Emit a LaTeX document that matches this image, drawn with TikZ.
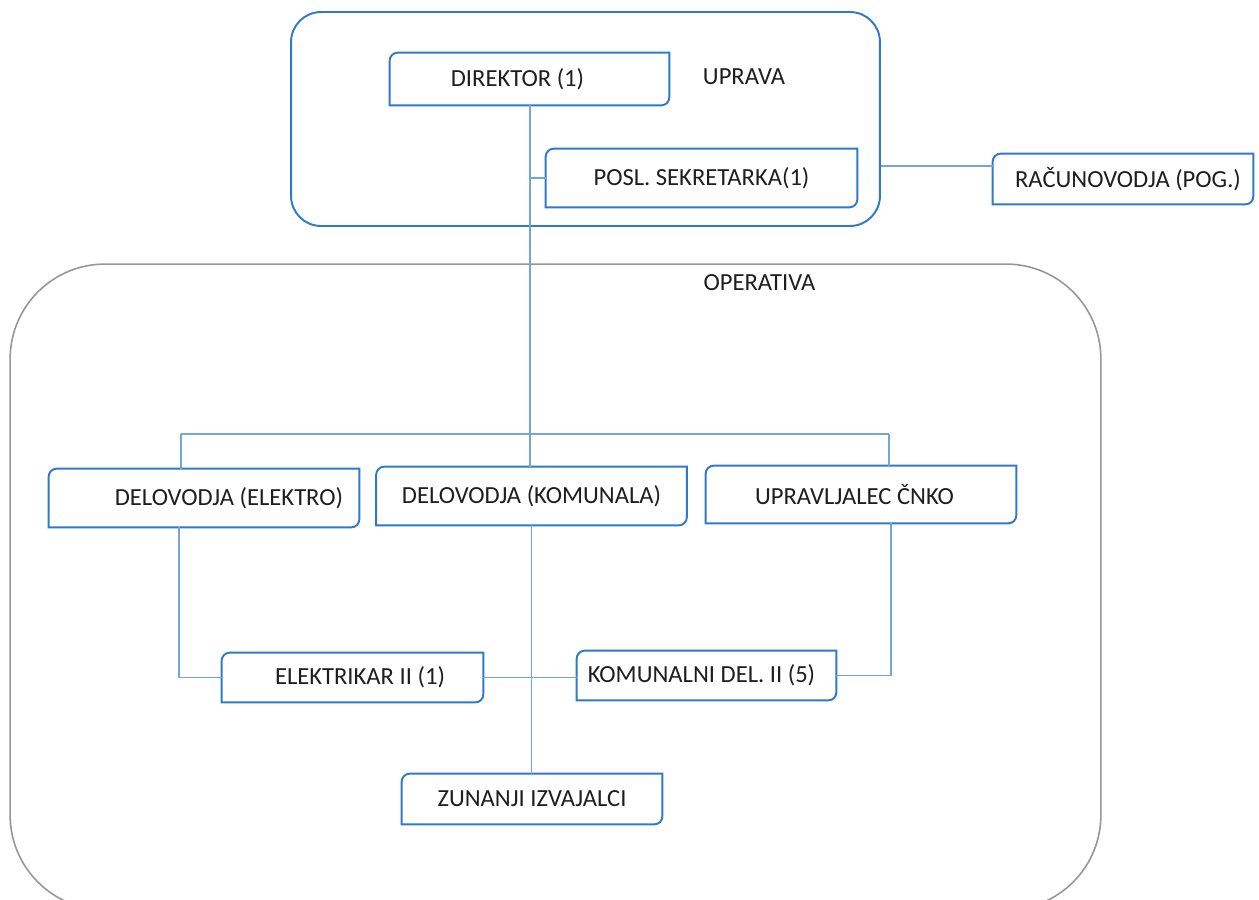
\documentclass[tikz,border=0pt]{standalone}
\usepackage{fontspec}
\setmainfont{Carlito}
\usepackage{tikz}

\definecolor{boxblue}{RGB}{46,122,200}
\definecolor{linkblue}{RGB}{115,165,220}
\definecolor{framegray}{RGB}{150,150,150}
\definecolor{textgray}{RGB}{30,30,30}

\tikzset{
  orgbox/.style={minimum width=6.2cm, minimum height=1.16cm, inner sep=0pt,
    text=textgray, font=\fontsize{14}{16}\selectfont},
  smallbox/.style={orgbox, minimum width=5.2cm, minimum height=1cm},
  boxline/.style={draw=boxblue, line width=1.1pt},
  link/.style={draw=linkblue, line width=0.9pt},
  orglabel/.style={text=textgray, font=\fontsize{14}{16}\selectfont}
}

% box with two round corners (top left, bottom right)
\newcommand{\snipbox}[1]{%
  \draw[boxline] ([yshift=-0.16cm]#1.north west)
    arc[start angle=180, end angle=90, radius=0.16cm] -- (#1.north east)
    -- ([yshift=0.16cm]#1.south east)
    arc[start angle=0, end angle=-90, radius=0.16cm] -- (#1.south west) -- cycle;}

\begin{document}
\begin{tikzpicture}[x=0.02cm, y=-0.02cm]

      \clip (0,0) rectangle (1259,900);

      % the two groups
      \node [draw=boxblue, line width=1.1pt, rounded corners=0.6cm,
        minimum width=11.78cm, minimum height=4.28cm] (uprava) at (585.5,119) {};
      \node [orglabel] (upravatxt) at (744,77) {UPRAVA};

      \node [draw=framegray, line width=0.9pt, rounded corners=1.9cm,
        minimum width=21.82cm, minimum height=12.92cm] (operativa) at (555.5,587) {};
      \node [orglabel] (operativatxt) at (759.5,283) {OPERATIVA};

      % uprava
      \node [orgbox, minimum width=5.58cm, minimum height=1.04cm] (dir) at (529.5,79)
        {DIREKTOR (1)\hspace*{0.48cm}};
      \snipbox{dir}

      \node [orgbox, minimum width=6.22cm] (posl) at (701.5,178) {POSL. SEKRETARKA(1)};
      \snipbox{posl}

      \node [smallbox] (rac) at (1123,179) {\hspace*{0.2cm}RAČUNOVODJA (POG.)};
      \snipbox{rac}

      % operativa
      \node [orgbox] (dele) at (204,498) {\hspace*{1cm}DELOVODJA (ELEKTRO)};
      \snipbox{dele}

      \node [orgbox] (delk) at (531.5,496) {DELOVODJA (KOMUNALA)};
      \snipbox{delk}

      \node [orgbox, minimum height=1.14cm] (upr) at (861,494.5)
        {UPRAVLJALEC ČNKO\hspace*{0.26cm}};
      \snipbox{upr}

      \node [smallbox, minimum width=5.22cm, minimum height=0.98cm] (elek) at (352.5,677.5)
        {\hspace*{0.3cm}ELEKTRIKAR II (1)};
      \snipbox{elek}

      \node [smallbox, minimum width=5.18cm, minimum height=0.98cm] (kom) at (706.5,675.5)
        {KOMUNALNI DEL. II (5)\hspace*{0.2cm}};
      \snipbox{kom}

      \node [smallbox] (zun) at (532,799) {ZUNANJI IZVAJALCI};
      \snipbox{zun}

      % connectors
      \coordinate (busl) at (181,434);
      \coordinate (busr) at (889,434);
      \coordinate (trunk) at (530,0 |- dir.south);

      \draw [link] (trunk) -- (trunk |- delk.north);
      \draw [link] (trunk |- posl.west) -- (posl.west);
      \draw [link] (uprava.east |- 0,166) -- (rac.west |- 0,166);

      \draw [link] (busl) -- (busr);
      \draw [link] (busl) -- (busl |- dele.north);
      \draw [link] (busr) -- (busr |- upr.north);

      \draw [link] (179,0 |- dele.south) |- (elek.west);
      \draw [link] (891,0 |- upr.south) |- (kom.east);
      \draw [link] (elek.east) -- (elek.east -| kom.west);
      \draw [link] (delk.south) -- (delk.south |- zun.north);

    \end{tikzpicture}
\end{document}
